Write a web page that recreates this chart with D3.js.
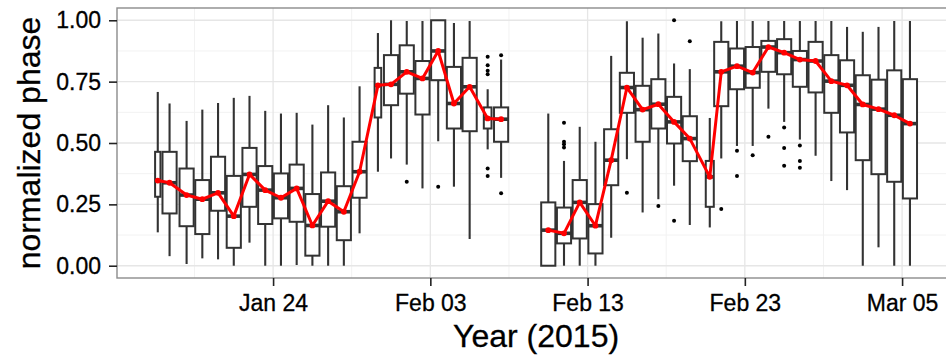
<!DOCTYPE html>
<html><head><meta charset="utf-8">
<script src="https://cdn.jsdelivr.net/npm/d3@7"></script>
<style>
body{margin:0;background:#fff}
svg{display:block}
text{font-family:"Liberation Sans",Arial,Helvetica,sans-serif;fill:#000}
</style>
</head><body>
<svg id="chart" width="946" height="356"></svg>
<script>
// ---------------- data ----------------
const boxDates = [
  "2015-01-16 16:00","2015-01-17 10:00","2015-01-18 12:00","2015-01-19 12:00","2015-01-20 12:00",
  "2015-01-21 12:00","2015-01-22 12:00","2015-01-23 12:00","2015-01-24 12:00","2015-01-25 12:00",
  "2015-01-26 12:00","2015-01-27 12:00","2015-01-28 12:00","2015-01-29 12:00","2015-01-30 16:00",
  "2015-01-31 12:00","2015-02-01 12:00","2015-02-02 12:00","2015-02-03 12:00","2015-02-04 12:00",
  "2015-02-05 12:00","2015-02-06 15:30","2015-02-07 12:00",
  "2015-02-10 12:00","2015-02-11 12:00","2015-02-12 12:00","2015-02-13 12:00","2015-02-14 12:00",
  "2015-02-15 12:00","2015-02-16 12:00","2015-02-17 12:00","2015-02-18 12:00","2015-02-19 12:00",
  "2015-02-20 18:30","2015-02-21 12:00","2015-02-22 12:00","2015-02-23 12:00","2015-02-24 12:00",
  "2015-02-25 12:00","2015-02-26 12:00","2015-02-27 12:00","2015-02-28 12:00","2015-03-01 12:00",
  "2015-03-02 12:00","2015-03-03 12:00","2015-03-04 12:00","2015-03-05 12:00"
];
// box width, in days (narrow boxes = partial days)
const boxWidthDays = [
  0.34,0.9,0.9,0.9,0.9, 0.9,0.9,0.9,0.9,0.9, 0.9,0.9,0.9,0.9,0.42,
  0.9,0.9,0.9,0.9,0.9, 0.9,0.49,0.9,
  0.9,0.9,0.9,0.9,0.9, 0.9,0.9,0.9,0.9,0.9,
  0.51,0.9,0.9,0.9,0.9, 0.9,0.9,0.9,0.9,0.9, 0.9,0.9,0.9,0.9
];
const whiskerLow = [
  0.136,0.039,0.007,0.030,0.026, 0.000,0.094,0.000,0.000,0.003, 0.000,0.000,0.000,0.132,0.383,
  0.437,0.412,0.315,0.507,0.322, 0.109,0.474,0.358,
  0.000,0.000,0.000,0.000,0.114, 0.434,0.217,0.271,0.326,0.166,
  0.156,0.437,0.488,0.488,0.640, 0.586,0.514,0.448,0.345,0.308, 0.000,0.075,0.000,0.000
];
const quart1 = [
  0.281,0.213,0.161,0.129,0.224, 0.073,0.240,0.170,0.193,0.179, 0.041,0.159,0.104,0.277,0.604,
  0.654,0.701,0.616,0.756,0.559, 0.548,0.559,0.505,
  0.000,0.091,0.111,0.050,0.328, 0.623,0.505,0.559,0.498,0.426,
  0.240,0.650,0.719,0.725,0.790, 0.780,0.729,0.706,0.623,0.543, 0.430,0.373,0.342,0.274
];
const medians = [
  0.347,0.338,0.288,0.271,0.297, 0.202,0.372,0.308,0.277,0.315, 0.164,0.263,0.220,0.383,0.735,
  0.739,0.790,0.763,0.875,0.661, 0.729,0.600,0.597,
  0.145,0.132,0.258,0.163,0.430, 0.726,0.636,0.658,0.586,0.518,
  0.362,0.790,0.813,0.787,0.891, 0.868,0.840,0.834,0.752,0.735, 0.657,0.638,0.613,0.579
];
const quart3 = [
  0.464,0.464,0.396,0.349,0.444, 0.366,0.480,0.406,0.376,0.412, 0.292,0.380,0.324,0.505,0.806,
  0.858,0.898,0.834,1.000,0.810, 0.847,0.645,0.645,
  0.258,0.237,0.349,0.251,0.556, 0.786,0.733,0.760,0.688,0.609,
  0.427,0.912,0.885,0.891,0.916, 0.923,0.875,0.912,0.858,0.837, 0.776,0.758,0.796,0.760
];
const whiskerHigh = [
  0.708,0.661,0.590,0.636,0.663, 0.684,0.692,0.631,0.620,0.623, 0.575,0.654,0.604,0.731,0.948,
  1.000,0.997,0.997,1.000,0.989, 0.997,0.719,0.840,
  0.620,0.427,0.566,0.505,0.855, 0.996,0.929,0.946,0.824,0.801,
  0.602,0.996,0.997,0.997,0.997, 0.997,0.997,0.997,0.997,0.973, 0.953,0.973,0.997,0.997
];
const outliers = [
  [],[],[],[],[], [],[],[],[],[], [],[],[],[],[],
  [],[0.342],[],[0.322],[], [],[0.851,0.817,0.794,0.780,0.396,0.366],[0.858,0.295],
  [],[0.583,0.505,0.495,0.482],[],[],[], [0.297],[],[0.243],[1.000,0.183],[0.915],
  [],[0.231],[0.468,0.366],[0.450],[0.525], [0.563,0.480,0.407],[0.490,0.427,0.399],[],[],[],
  [],[],[],[]
];
const xTickDates = ["2015-01-24","2015-02-03","2015-02-13","2015-02-23","2015-03-05"];
const xTickLabels = ["Jan 24","Feb 03","Feb 13","Feb 23","Mar 05"];
const yTickValues = [0, 0.25, 0.5, 0.75, 1];
const yTickLabels = ["0.00","0.25","0.50","0.75","1.00"];

// ---------------- drawing ----------------
const parseDT = d3.timeParse("%Y-%m-%d %H:%M");
const parseD = d3.timeParse("%Y-%m-%d");
const DAY = 864e5;
const boxes = boxDates.map((s,i)=>({
  t: parseDT(s), w: boxWidthDays[i], lo: whiskerLow[i], q1: quart1[i],
  med: medians[i], q3: quart3[i], hi: whiskerHigh[i], out: outliers[i]
}));

const panel = {left:117, top:8, bottom:278};
const tMin = d3.min(boxes, b => +b.t - b.w*DAY/2);
const tMax = d3.max(boxes, b => +b.t + b.w*DAY/2);
const pad = (tMax - tMin)*0.05;
const pxPerDay = 15.725;
const domain = [new Date(tMin - pad), new Date(tMax + pad)];
const rightPx = panel.left + (domain[1]-domain[0])/DAY*pxPerDay;

const x = d3.scaleTime().domain(domain).range([panel.left, rightPx]);
const y = d3.scaleLinear().domain([-0.05, 1.05]).range([panel.bottom, panel.top]);

const svg = d3.select("#chart");
const g = svg.append("g");

// grid
const majorX = xTickDates.map(parseD);
const minorX = [];
for (let i=-1;i<majorX.length;i++){
  const a = i<0 ? new Date(+majorX[0]-10*DAY) : majorX[i];
  const b = i+1<majorX.length ? majorX[i+1] : new Date(+majorX[i]+10*DAY);
  const m = new Date((+a + +b)/2);
  if (m>=domain[0] && m<=domain[1]) minorX.push(m);
}
const minorY = d3.pairs(yTickValues).map(([a,b])=>(a+b)/2);

g.append("g").selectAll("line").data(minorY).join("line")
  .attr("x1",panel.left).attr("x2",rightPx).attr("y1",d=>y(d)).attr("y2",d=>y(d))
  .attr("stroke","#f2f2f2").attr("stroke-width",1);
g.append("g").selectAll("line").data(minorX).join("line")
  .attr("x1",d=>x(d)).attr("x2",d=>x(d)).attr("y1",panel.top).attr("y2",panel.bottom)
  .attr("stroke","#f2f2f2").attr("stroke-width",1);
g.append("g").selectAll("line").data(yTickValues).join("line")
  .attr("x1",panel.left).attr("x2",rightPx).attr("y1",d=>y(d)).attr("y2",d=>y(d))
  .attr("stroke","#e6e6e6").attr("stroke-width",1.3);
g.append("g").selectAll("line").data(majorX).join("line")
  .attr("x1",d=>x(d)).attr("x2",d=>x(d)).attr("y1",panel.top).attr("y2",panel.bottom)
  .attr("stroke","#e6e6e6").attr("stroke-width",1.3);

// boxes
const boxCol = "#333333";
const bg = g.append("g");
boxes.forEach(b=>{
  const cx = x(b.t);
  const hw = (x(new Date(+b.t + b.w*DAY)) - cx)/2;
  const gb = bg.append("g");
  gb.selectAll("circle").data(b.out).join("circle")
    .attr("cx",cx).attr("cy",d=>y(d)).attr("r",2).attr("fill","#000");
  gb.append("line").attr("x1",cx).attr("x2",cx).attr("y1",y(b.q3)).attr("y2",y(b.hi))
    .attr("stroke",boxCol).attr("stroke-width",2.1);
  gb.append("line").attr("x1",cx).attr("x2",cx).attr("y1",y(b.q1)).attr("y2",y(b.lo))
    .attr("stroke",boxCol).attr("stroke-width",2.1);
  gb.append("rect").attr("x",cx-hw).attr("width",2*hw)
    .attr("y",y(b.q3)).attr("height",Math.max(0,y(b.q1)-y(b.q3)))
    .attr("fill","#fff").attr("stroke",boxCol).attr("stroke-width",2);
  gb.append("line").attr("x1",cx-hw).attr("x2",cx+hw).attr("y1",y(b.med)).attr("y2",y(b.med))
    .attr("stroke",boxCol).attr("stroke-width",3.6);
});

// red median line (broken where days are missing)
const segments = [];
let cur = [];
boxes.forEach((b,i)=>{
  if (i>0 && (+b.t - +boxes[i-1].t) > 1.6*DAY){ segments.push(cur); cur=[]; }
  cur.push(b);
});
segments.push(cur);
const line = d3.line().x(d=>x(d.t)).y(d=>y(d.med));
g.append("g").selectAll("path").data(segments).join("path")
  .attr("d",line).attr("fill","none").attr("stroke","#ff0000").attr("stroke-width",3)
  .attr("stroke-linejoin","round");
g.append("g").selectAll("circle").data(boxes).join("circle")
  .attr("cx",d=>x(d.t)).attr("cy",d=>y(d.med)).attr("r",2.9).attr("fill","#ff0000");

// panel border
g.append("rect").attr("x",panel.left).attr("y",panel.top)
  .attr("width",rightPx-panel.left).attr("height",panel.bottom-panel.top)
  .attr("fill","none").attr("stroke","#8c8c8c").attr("stroke-width",1.4);

// axes
const yAxis = d3.axisLeft(y).tickValues(yTickValues)
  .tickFormat((d,i)=>yTickLabels[i]).tickSize(8).tickPadding(8);
const ya = svg.append("g").attr("transform",`translate(${panel.left},0)`).call(yAxis);
ya.select(".domain").remove();
ya.selectAll(".tick line").attr("stroke","#222").attr("stroke-width",1.6);
ya.selectAll(".tick text").attr("font-size",23).attr("font-family",null).attr("fill","#000")
  .attr("stroke","#000").attr("stroke-width",0.3);

const xAxis = d3.axisBottom(x).tickValues(majorX)
  .tickFormat((d,i)=>xTickLabels[i]).tickSize(8).tickPadding(9);
const xa = svg.append("g").attr("transform",`translate(0,${panel.bottom})`).call(xAxis);
xa.select(".domain").remove();
xa.selectAll(".tick line").attr("stroke","#222").attr("stroke-width",1.6);
xa.selectAll(".tick text").attr("font-size",23).attr("font-family",null).attr("fill","#000")
  .attr("stroke","#000").attr("stroke-width",0.3);

svg.append("text").attr("transform",`translate(40,${(panel.top+panel.bottom)/2}) rotate(-90)`)
  .attr("text-anchor","middle").attr("font-size",32).attr("stroke","#000").attr("stroke-width",0.3)
  .text("normalized phase");
svg.append("text").attr("x",(panel.left+rightPx)/2).attr("y",347)
  .attr("text-anchor","middle").attr("font-size",32).attr("stroke","#000").attr("stroke-width",0.3)
  .text("Year (2015)");
</script>
</body></html>
